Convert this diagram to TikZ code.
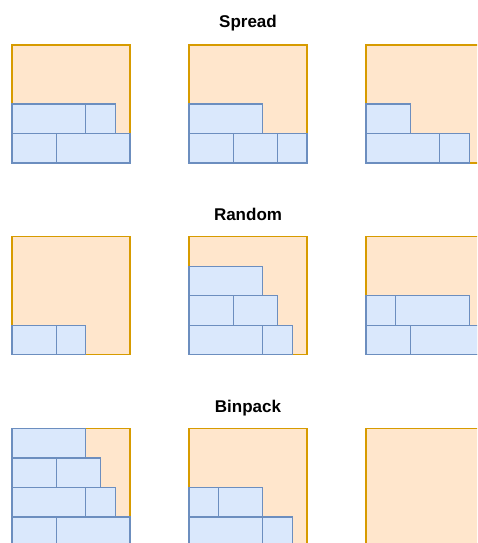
\documentclass[tikz,border=0pt]{standalone}
\usepackage{fontspec}
\setmainfont{Liberation Sans}
\definecolor{binfill}{HTML}{FFE6CC}
\definecolor{binstroke}{HTML}{D79B00}
\definecolor{taskfill}{HTML}{DAE8FC}
\definecolor{taskstroke}{HTML}{6C8EBF}
\tikzset{
  binbox/.style={draw=binstroke, fill=binfill, line width=1.2pt},
  taskbox/.style={draw=taskstroke, fill=taskfill, line width=1.3pt},
  ttl/.style={font=\bfseries\fontsize{17}{20}\selectfont, anchor=base, inner sep=0pt},
  unitgrid/.style={x=29.5pt, y=29.5pt}
}
\begin{document}
\begin{tikzpicture}[x=1pt,y=-1pt]
\useasboundingbox (0,0) rectangle (477,543);
\clip (0,0) rectangle (477,543);
% titles
\node[ttl] (tspread) at (248,27.7) {Spread};
\node[ttl] (trandom) at (248,220) {Random};
\node[ttl] (tbinpack) at (248,412.3) {Binpack};
% bins
\foreach \c in {0,1,2}
  \foreach \yt in {45,236.75,428.5}
    \draw[binbox] ({12+177*\c},\yt) rectangle ++(118,118);
% Spread
\begin{scope}[shift={(12,163)}, unitgrid]
  \draw[taskbox] (0,0) rectangle (1.5,1);
  \draw[taskbox] (1.5,0) rectangle (4,1);
  \draw[taskbox] (0,1) rectangle (2.5,2);
  \draw[taskbox] (2.5,1) rectangle (3.5,2);
\end{scope}
\begin{scope}[shift={(189,163)}, unitgrid]
  \draw[taskbox] (0,0) rectangle (1.5,1);
  \draw[taskbox] (1.5,0) rectangle (3,1);
  \draw[taskbox] (3,0) rectangle (4,1);
  \draw[taskbox] (0,1) rectangle (2.5,2);
\end{scope}
\begin{scope}[shift={(366,163)}, unitgrid]
  \draw[taskbox] (0,0) rectangle (2.5,1);
  \draw[taskbox] (2.5,0) rectangle (3.5,1);
  \draw[taskbox] (0,1) rectangle (1.5,2);
\end{scope}
% Random
\begin{scope}[shift={(12,354.75)}, unitgrid]
  \draw[taskbox] (0,0) rectangle (1.5,1);
  \draw[taskbox] (1.5,0) rectangle (2.5,1);
\end{scope}
\begin{scope}[shift={(189,354.75)}, unitgrid]
  \draw[taskbox] (0,0) rectangle (2.5,1);
  \draw[taskbox] (2.5,0) rectangle (3.5,1);
  \draw[taskbox] (0,1) rectangle (1.5,2);
  \draw[taskbox] (1.5,1) rectangle (3,2);
  \draw[taskbox] (0,2) rectangle (2.5,3);
\end{scope}
\begin{scope}[shift={(366,354.75)}, unitgrid]
  \draw[taskbox] (0,0) rectangle (1.5,1);
  \draw[taskbox] (1.5,0) rectangle (4,1);
  \draw[taskbox] (0,1) rectangle (1,2);
  \draw[taskbox] (1,1) rectangle (3.5,2);
\end{scope}
% Binpack
\begin{scope}[shift={(12,546.5)}, unitgrid]
  \draw[taskbox] (0,0) rectangle (1.5,1);
  \draw[taskbox] (1.5,0) rectangle (4,1);
  \draw[taskbox] (0,1) rectangle (2.5,2);
  \draw[taskbox] (2.5,1) rectangle (3.5,2);
  \draw[taskbox] (0,2) rectangle (1.5,3);
  \draw[taskbox] (1.5,2) rectangle (3,3);
  \draw[taskbox] (0,3) rectangle (2.5,4);
\end{scope}
\begin{scope}[shift={(189,546.5)}, unitgrid]
  \draw[taskbox] (0,0) rectangle (2.5,1);
  \draw[taskbox] (2.5,0) rectangle (3.5,1);
  \draw[taskbox] (0,1) rectangle (1,2);
  \draw[taskbox] (1,1) rectangle (2.5,2);
\end{scope}
\end{tikzpicture}
\end{document}
